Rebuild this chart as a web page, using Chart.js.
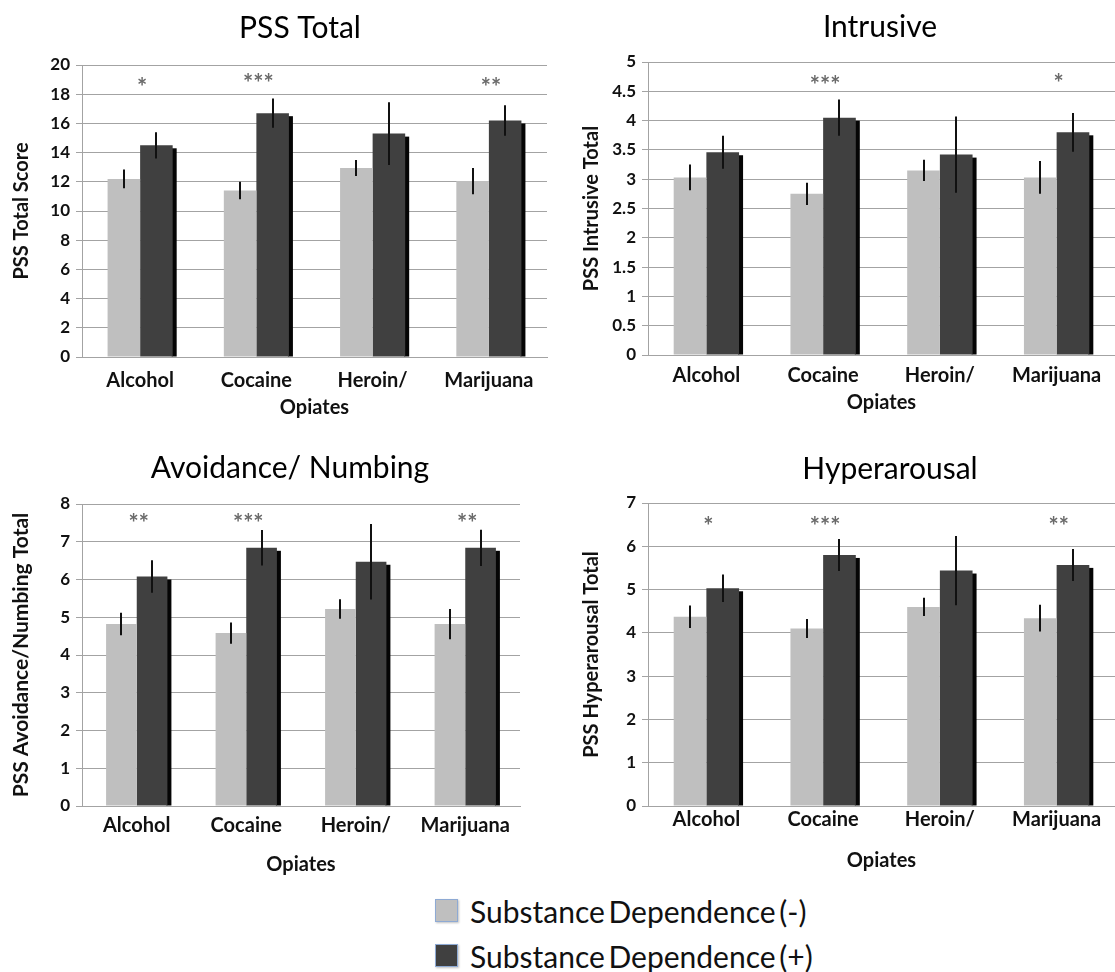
<!DOCTYPE html>
<html>
<head>
<meta charset="utf-8">
<script src="https://cdn.jsdelivr.net/npm/chart.js@4.4.1/dist/chart.umd.min.js"></script>
<style>
  html, body { margin: 0; padding: 0; background: #fff; }
  body { width: 1115px; height: 972px; position: relative; overflow: hidden; font-family: 'Lato', sans-serif; }
  .box { position: absolute; }
  #legend { position: absolute; left: 435px; top: 888px; }
  .row { display: flex; align-items: center; height: 45px; font-size: 30px; color: #111; word-spacing: -4px; white-space: nowrap; }
  .sw { width: 21px; height: 21px; margin-right: 12px; border: 1px solid #8eaad4; box-shadow: 1px 1px 2px rgba(0,0,0,0.25); }
</style>
</head>
<body>
<div class="box" style="left:0px;top:0px;"><canvas id="c1" width="600" height="420"></canvas></div>
<div class="box" style="left:556px;top:0px;"><canvas id="c2" width="648" height="415"></canvas></div>
<div class="box" style="left:0px;top:430px;"><canvas id="c3" width="580" height="447"></canvas></div>
<div class="box" style="left:556px;top:430px;"><canvas id="c4" width="668" height="443"></canvas></div>
<div id="legend"></div>
<script>
// ---------------- DATA ----------------
const categories = ['Alcohol', 'Cocaine', 'Heroin/', 'Marijuana'];
const xAxisTitle = 'Opiates';
const seriesNames = ['Substance Dependence (-)', 'Substance Dependence (+)'];
const seriesColors = ['#bfbfbf', '#404040'];

const pssTotalNeg = [12.2, 11.4, 12.95, 12.05];
const pssTotalNegErr = [0.65, 0.6, 0.55, 0.9];
const pssTotalPos = [14.5, 16.7, 15.3, 16.2];
const pssTotalPosErr = [0.9, 1.0, 2.15, 1.05];
const pssTotalSig = ['*', '***', '', '**'];
const pssTotalSigY = [18.8, 19.1, 0, 18.8];
const pssTotalTicks = { min: 0, max: 20, step: 2 };

const intrusiveNeg = [3.03, 2.75, 3.15, 3.03];
const intrusiveNegErr = [0.22, 0.19, 0.18, 0.28];
const intrusivePos = [3.46, 4.05, 3.42, 3.80];
const intrusivePosErr = [0.28, 0.31, 0.65, 0.33];
const intrusiveSig = ['', '***', '', '*'];
const intrusiveSigY = [0, 4.68, 0, 4.72];
const intrusiveTicks = { min: 0, max: 5, step: 0.5 };

const avoidNeg = [4.82, 4.58, 5.22, 4.82];
const avoidNegErr = [0.3, 0.28, 0.26, 0.4];
const avoidPos = [6.08, 6.84, 6.47, 6.84];
const avoidPosErr = [0.43, 0.47, 1.0, 0.48];
const avoidSig = ['**', '***', '', '**'];
const avoidSigY = [7.62, 7.62, 0, 7.62];
const avoidTicks = { min: 0, max: 8, step: 1 };

const hyperNeg = [4.37, 4.10, 4.60, 4.34];
const hyperNegErr = [0.26, 0.22, 0.21, 0.31];
const hyperPos = [5.03, 5.80, 5.44, 5.57];
const hyperPosErr = [0.32, 0.37, 0.8, 0.37];
const hyperSig = ['*', '***', '', '**'];
const hyperSigY = [6.57, 6.58, 0, 6.58];
const hyperTicks = { min: 0, max: 7, step: 1 };

// ---------------- PLUGIN ----------------
const extrasPlugin = {
  id: 'extras',
  beforeDatasetDraw(chart, args) {
    if (args.index !== 1) return;
    const ctx = chart.ctx;
    ctx.save();
    ctx.fillStyle = '#050505';
    args.meta.data.forEach(bar => {
      const p = bar.getProps(['x', 'y', 'base', 'width'], true);
      ctx.fillRect(p.x + p.width / 2 - 1, p.y + 3, 5, p.base - p.y - 3);
    });
    ctx.restore();
  },
  afterDatasetsDraw(chart, args, opts) {
    const ctx = chart.ctx;
    const yScale = chart.scales.y;
    const xScale = chart.scales.x;
    ctx.save();
    ctx.strokeStyle = '#111';
    ctx.lineWidth = 2;
    chart.data.datasets.forEach((ds, i) => {
      const meta = chart.getDatasetMeta(i);
      meta.data.forEach((bar, j) => {
        const v = ds.data[j], e = ds.errors[j];
        const x = Math.round(bar.x);
        ctx.beginPath();
        ctx.moveTo(x, yScale.getPixelForValue(v + e));
        ctx.lineTo(x, yScale.getPixelForValue(v - e));
        ctx.stroke();
      });
    });
    ctx.fillStyle = '#6a6a6a';
    ctx.font = 'bold 24px Lato';
    ctx.textAlign = 'center';
    ctx.textBaseline = 'middle';
    opts.sig.forEach((s, j) => {
      if (!s) return;
      ctx.fillText(s, xScale.getPixelForValue(j) + 2, yScale.getPixelForValue(opts.sigY[j]) + 6);
    });
    ctx.restore();
  }
};

function makeChart(id, cfg) {
  const gridColor = '#a3a3a3';
  return new Chart(document.getElementById(id), {
    type: 'bar',
    data: {
      labels: categories,
      datasets: [
        { label: seriesNames[0], data: cfg.neg, errors: cfg.negErr, backgroundColor: seriesColors[0],
          categoryPercentage: 0.56, barPercentage: 1.0 },
        { label: seriesNames[1], data: cfg.pos, errors: cfg.posErr, backgroundColor: seriesColors[1],
          categoryPercentage: 0.56, barPercentage: 1.0 }
      ]
    },
    options: {
      responsive: false,
      animation: false,
      devicePixelRatio: 1,
      layout: { padding: 0 },
      plugins: {
        legend: { display: false },
        tooltip: { enabled: false },
        title: {
          display: true, text: cfg.title, color: '#000',
          font: { family: 'Lato', size: 30, weight: 'normal' },
          padding: { top: cfg.titleTop, bottom: cfg.titleBottom }
        },
        extras: { sig: cfg.sig, sigY: cfg.sigY }
      },
      scales: {
        x: {
          grid: { display: false, drawTicks: false },
          border: { display: true, color: gridColor, width: 1 },
          ticks: { color: '#111', font: { family: 'Lato', size: 20, weight: 'bold' }, padding: cfg.labelPad, maxRotation: 0, autoSkip: false },
          title: { display: true, text: xAxisTitle, color: '#111', font: { family: 'Lato', size: 20, weight: 'bold' }, padding: 0 },
          afterFit(scale) { scale.height = cfg.xHeight; }
        },
        y: {
          min: cfg.ticks.min, max: cfg.ticks.max,
          ticks: { stepSize: cfg.ticks.step, color: '#111', font: { family: 'Lato', size: 17, weight: 'bold' }, padding: 6,
                   callback: v => String(+v.toFixed(2)) },
          grid: { color: gridColor, lineWidth: 1, drawTicks: true, tickLength: 6 },
          border: { display: true, color: gridColor, width: 1 },
          title: { display: true, text: cfg.yTitle, color: '#111', font: { family: 'Lato', size: cfg.yTitleSize, weight: 'bold' }, padding: { top: cfg.yTitlePad, bottom: 0 } },
          afterFit(scale) { scale.width = cfg.yWidth; }
        },
        yPad: {
          type: 'linear', position: 'right', display: true, min: 0, max: 1,
          grid: { display: false, drawTicks: false },
          border: { display: false },
          ticks: { display: false },
          afterFit(scale) { scale.width = cfg.padRight; }
        }
      }
    },
    plugins: [extrasPlugin]
  });
}

makeChart('c1', { title: 'PSS Total', yTitle: 'PSS Total Score', neg: pssTotalNeg, negErr: pssTotalNegErr,
  pos: pssTotalPos, posErr: pssTotalPosErr, sig: pssTotalSig, sigY: pssTotalSigY, ticks: pssTotalTicks,
  titleTop: 10, titleBottom: 19, yWidth: 82, yTitlePad: 10, yTitleSize: 20, xHeight: 63, labelPad: 12, padRight: 53 });
makeChart('c2', { title: 'Intrusive', yTitle: 'PSS Intrusive Total', neg: intrusiveNeg, negErr: intrusiveNegErr,
  pos: intrusivePos, posErr: intrusivePosErr, sig: intrusiveSig, sigY: intrusiveSigY, ticks: intrusiveTicks,
  titleTop: 9, titleBottom: 17, yWidth: 92, yTitlePad: 24, yTitleSize: 20, xHeight: 60, labelPad: 9, padRight: 89 });
makeChart('c3', { title: 'Avoidance/ Numbing', yTitle: 'PSS Avoidance/Numbing Total', neg: avoidNeg, negErr: avoidNegErr,
  pos: avoidPos, posErr: avoidPosErr, sig: avoidSig, sigY: avoidSigY, ticks: avoidTicks,
  titleTop: 20, titleBottom: 18, yWidth: 82, yTitlePad: 9, yTitleSize: 21, xHeight: 71, labelPad: 8, padRight: 60 });
makeChart('c4', { title: 'Hyperarousal', yTitle: 'PSS Hyperarousal Total', neg: hyperNeg, negErr: hyperNegErr,
  pos: hyperPos, posErr: hyperPosErr, sig: hyperSig, sigY: hyperSigY, ticks: hyperTicks,
  titleTop: 21, titleBottom: 16, yWidth: 92, yTitlePad: 24, yTitleSize: 20, xHeight: 67, labelPad: 2, padRight: 109 });

// legend
const legend = document.getElementById('legend');
seriesNames.forEach((name, i) => {
  const row = document.createElement('div');
  row.className = 'row';
  const sw = document.createElement('div');
  sw.className = 'sw';
  sw.style.background = seriesColors[i];
  const t = document.createElement('span');
  t.textContent = name;
  row.appendChild(sw);
  row.appendChild(t);
  legend.appendChild(row);
});
</script>
</body>
</html>
